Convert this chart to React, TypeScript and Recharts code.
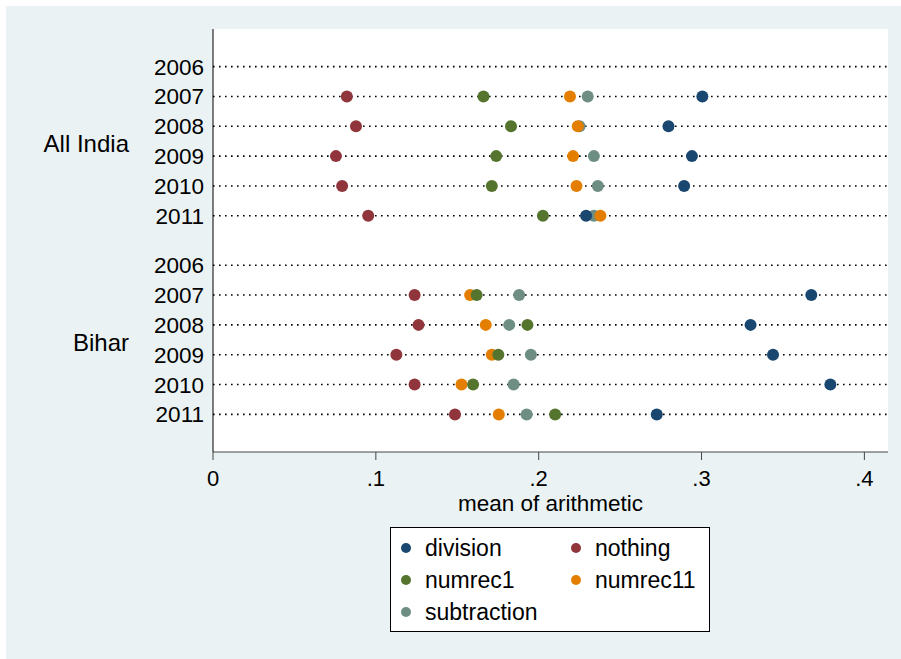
import {
  ScatterChart,
  Scatter,
  XAxis,
  YAxis,
  CartesianGrid,
  ReferenceLine,
  Legend,
} from 'recharts';

const GROUPS = ['All India', 'Bihar'];
const YEARS = ['2006', '2007', '2008', '2009', '2010', '2011'];
const X_TICKS = [0, 0.1, 0.2, 0.3, 0.4];

// mean of arithmetic, one value per year (2006 has no data)
const DIVISION_ALL = [null, 0.3005, 0.2797, 0.2941, 0.2893, 0.2291];
const NOTHING_ALL = [null, 0.0822, 0.0878, 0.0755, 0.0793, 0.0953];
const NUMREC1_ALL = [null, 0.1661, 0.183, 0.1739, 0.1712, 0.2026];
const NUMREC11_ALL = [null, 0.2192, 0.224, 0.2211, 0.2232, 0.2379];
const SUBTRACTION_ALL = [null, 0.2301, 0.2251, 0.2339, 0.2363, 0.2339];

const DIVISION_BIHAR = [null, 0.3674, 0.3301, 0.3439, 0.3791, 0.2725];
const NOTHING_BIHAR = [null, 0.1238, 0.1262, 0.1126, 0.1238, 0.1486];
const NUMREC1_BIHAR = [null, 0.1619, 0.1931, 0.1752, 0.1597, 0.2101];
const NUMREC11_BIHAR = [null, 0.1579, 0.1675, 0.1712, 0.1526, 0.1755];
const SUBTRACTION_BIHAR = [null, 0.188, 0.1819, 0.1952, 0.1846, 0.1926];

const SERIES = [
  { name: 'division', color: '#1a476f', values: [DIVISION_ALL, DIVISION_BIHAR] },
  { name: 'nothing', color: '#90353b', values: [NOTHING_ALL, NOTHING_BIHAR] },
  { name: 'numrec1', color: '#55752f', values: [NUMREC1_ALL, NUMREC1_BIHAR] },
  { name: 'numrec11', color: '#e37e00', values: [NUMREC11_ALL, NUMREC11_BIHAR] },
  { name: 'subtraction', color: '#6e8e84', values: [SUBTRACTION_ALL, SUBTRACTION_BIHAR] },
];

const FONT = '"Liberation Sans", Arial, Helvetica, sans-serif';
const GROUP_GAP = 1.655; // extra space between the two groups, in row units
const EDGE_PAD = 1.26;
const YEAR_AXIS = 'a_year';
const GROUP_AXIS = 'b_group';

const rowPos = (g: number, i: number) => g * (YEARS.length - 1 + GROUP_GAP) + i;

const yearTicks = GROUPS.flatMap((_, g) => YEARS.map((__, i) => rowPos(g, i)));
const groupTicks = GROUPS.map((_, g) => (rowPos(g, 0) + rowPos(g, YEARS.length - 1)) / 2);
const yMax = rowPos(GROUPS.length - 1, YEARS.length - 1);
const Y_DOMAIN = [-EDGE_PAD, yMax + EDGE_PAD];

const fmtX = (v: number) => (v === 0 ? '0' : v.toFixed(1).replace(/^0/, ''));

const Dot = (props: any) => {
  const { cx, cy, fill } = props;
  if (cx == null || cy == null) return null;
  return <circle cx={cx} cy={cy} r={6} fill={fill} />;
};

const YearTick = (props: any) => {
  const { x, y, payload } = props;
  const idx = yearTicks.indexOf(payload.value);
  return (
    <text x={x} y={y} dy={8} textAnchor="end" fontSize={22.5} fontFamily={FONT} fill="#000">
      {YEARS[idx % YEARS.length]}
    </text>
  );
};

const GroupTick = (props: any) => {
  const { x, y, payload } = props;
  const idx = groupTicks.indexOf(payload.value);
  return (
    <text x={x} y={y} dy={11} textAnchor="end" fontSize={24} fontFamily={FONT} fill="#000">
      {GROUPS[idx]}
    </text>
  );
};

const LegendBox = () => (
  <div
    style={{
      boxSizing: 'border-box',
      width: 320,
      height: 105,
      background: '#fff',
      border: '1px solid #000',
      fontFamily: FONT,
      fontSize: 23,
      color: '#000',
      display: 'grid',
      gridTemplateColumns: '170px 150px',
      gridAutoRows: '32px',
      paddingTop: 4,
    }}
  >
    {SERIES.map((s) => (
      <div key={s.name} style={{ display: 'flex', alignItems: 'center', paddingLeft: 10, lineHeight: '32px' }}>
        <span
          style={{
            display: 'inline-block',
            flex: 'none',
            width: 10,
            height: 10,
            borderRadius: 5,
            background: s.color,
            marginRight: 14,
          }}
        />
        <span>{s.name}</span>
      </div>
    ))}
  </div>
);

export default function App() {
  // draw in reverse so that division ends up on top, as in the original
  const drawOrder = [...SERIES].reverse();
  return (
    <div style={{ position: 'absolute', left: 0, top: 0, width: 901, height: 659, background: '#fff' }}>
      <div style={{ position: 'absolute', left: 6, top: 6, right: 0, bottom: 0, background: '#eaf2f3' }} />
      <div style={{ position: 'absolute', left: 0, top: 0 }}>
        <ScatterChart width={901} height={659} margin={{ top: 29, right: 13, bottom: 0, left: 0 }}>
          <CartesianGrid yAxisId={YEAR_AXIS} fill="#fff" vertical={false} horizontal={false} />
          <XAxis
            type="number"
            dataKey="x"
            domain={[0, 0.4145]}
            ticks={X_TICKS}
            tickFormatter={fmtX}
            height={207}
            tickSize={8}
            tickMargin={10}
            axisLine={{ stroke: '#444' }}
            tickLine={{ stroke: '#444' }}
            tick={{ fill: '#000', fontSize: 22, fontFamily: FONT }}
            allowDataOverflow
            label={{
              value: 'mean of arithmetic',
              position: 'insideTop',
              offset: 43,
              fill: '#000',
              fontSize: 22.5,
              fontFamily: FONT,
            }}
          />
          <YAxis
            yAxisId={YEAR_AXIS}
            type="number"
            dataKey="y"
            domain={Y_DOMAIN}
            reversed
            ticks={yearTicks}
            interval={0}
            width={84}
            tickLine={false}
            tickSize={0}
            tickMargin={9}
            axisLine={{ stroke: '#000' }}
            tick={<YearTick />}
            allowDataOverflow
          />
          <YAxis
            yAxisId={GROUP_AXIS}
            type="number"
            domain={Y_DOMAIN}
            reversed
            ticks={groupTicks}
            interval={0}
            width={129}
            tickLine={false}
            tickSize={0}
            tickMargin={0}
            axisLine={false}
            tick={<GroupTick />}
            allowDataOverflow
          />
          {yearTicks.map((t) => (
            <ReferenceLine
              key={t}
              yAxisId={YEAR_AXIS}
              y={t}
              stroke="#000"
              strokeWidth={1.6}
              strokeDasharray="1.6 4.4"
            />
          ))}
          {drawOrder.map((s) => (
            <Scatter
              key={s.name}
              yAxisId={YEAR_AXIS}
              name={s.name}
              fill={s.color}
              isAnimationActive={false}
              shape={<Dot />}
              data={GROUPS.flatMap((_, g) =>
                s.values[g]
                  .map((v, i) => (v == null ? null : { x: v, y: rowPos(g, i) }))
                  .filter((d) => d != null)
              )}
            />
          ))}
          <Legend
            layout="horizontal"
            verticalAlign="middle"
            align="center"
            content={() => <LegendBox />}
            wrapperStyle={{ left: 390, top: 527, width: 320, height: 105 }}
          />
        </ScatterChart>
      </div>
    </div>
  );
}
